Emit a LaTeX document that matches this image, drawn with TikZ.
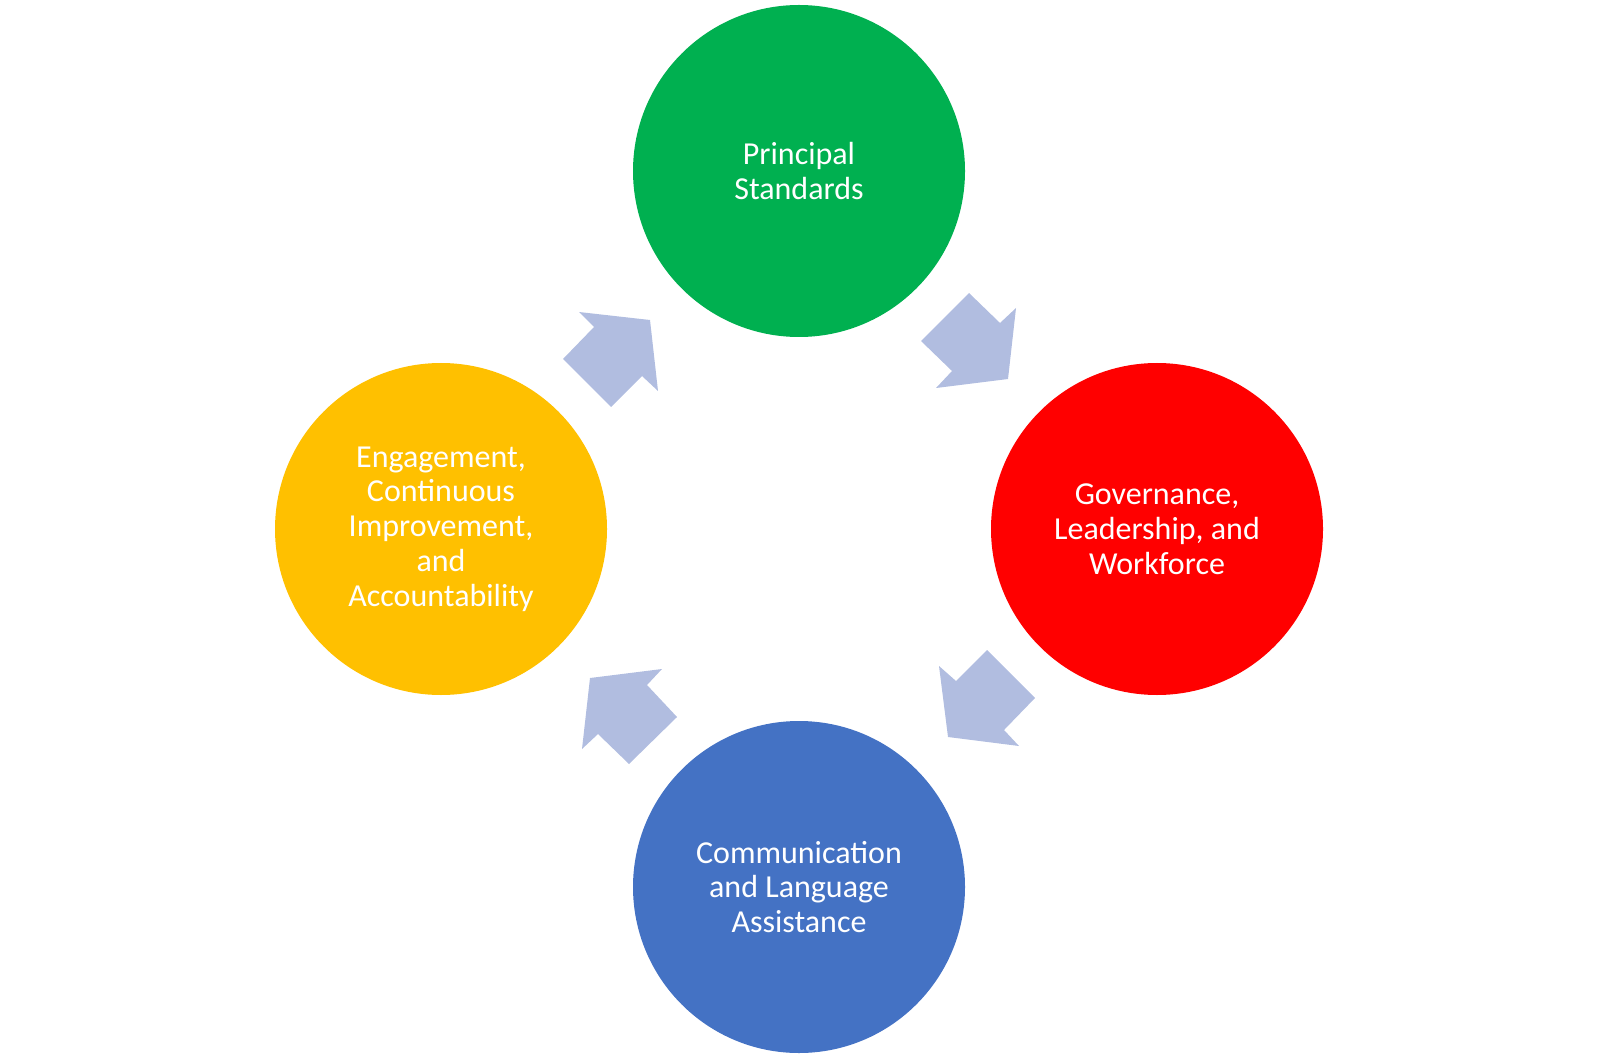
\documentclass[tikz,border=0pt]{standalone}
\usepackage{fontspec}
\setmainfont{Carlito}
\definecolor{stagegreen}{HTML}{00B050}
\definecolor{stagered}{HTML}{FF0000}
\definecolor{stageblue}{HTML}{4472C4}
\definecolor{stageyellow}{HTML}{FFC000}
\definecolor{arrowblue}{HTML}{B1BDE0}
\begin{document}
\begin{tikzpicture}[x=0.5pt, y=-0.5pt,
  stage/.style={circle, minimum size=166pt, inner sep=0pt, text=white,
    align=center, font=\fontsize{16}{17.4}\selectfont},
  cyclearrow/.style={fill=arrowblue}]
\useasboundingbox (0,0) rectangle (1598,1058);
% the four stages
\node[stage, fill=stagegreen]  (principal)  at (799,171) {Principal\\Standards};
\node[stage, fill=stagered]    (governance) at (1157,529) {Governance,\\Leadership, and\\Workforce};
\node[stage, fill=stageblue]   (communication) at (799,887) {Communication\\and Language\\Assistance};
\node[stage, fill=stageyellow] (engagement) at (441,529) {Engagement,\\Continuous\\Improvement,\\and\\Accountability};
% block arrows of the cycle
\fill[cyclearrow] (969,293) -- (1000,323) -- (1016,308) -- (1008,379) -- (936,388) -- (952,371) -- (921,341) -- cycle;
\fill[cyclearrow] (987,650) -- (1035,698) -- (1004,730) -- (1019,746) -- (948,737) -- (939,666) -- (956,681) -- cycle;
\fill[cyclearrow] (662,669) -- (647,685) -- (677,717) -- (629,764) -- (598,734) -- (582,749) -- (590,678) -- cycle;
\fill[cyclearrow] (579,312) -- (594,327) -- (563,359) -- (611,407) -- (642,376) -- (658,391) -- (650,320) -- cycle;
\end{tikzpicture}
\end{document}
